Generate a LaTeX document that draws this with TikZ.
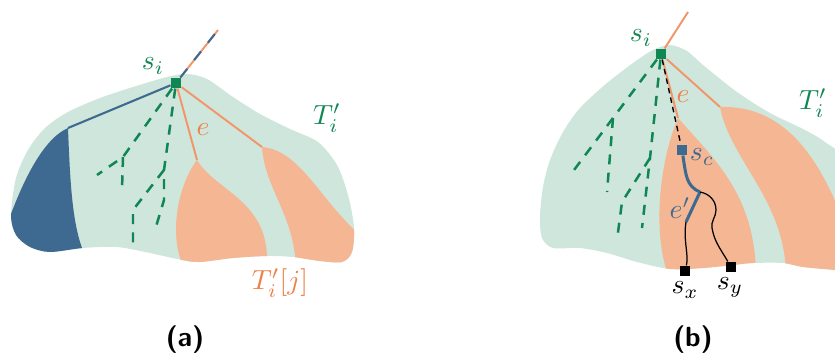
\documentclass[tikz,border=0pt]{standalone}
\usepackage{xcolor}
\definecolor{treefill}{HTML}{CEE6DB}
\definecolor{subfill}{HTML}{F5B693}
\definecolor{subline}{HTML}{F2966A}
\definecolor{sublabel}{HTML}{EE8048}
\definecolor{deepblue}{HTML}{3E6A91}
\definecolor{rootgreen}{HTML}{118655}
\begin{document}
\begin{tikzpicture}[x=0.0127cm, y=-0.0127cm,
    sq/.style={rectangle, minimum size=3.6pt, inner sep=0pt},
    greendash/.style={rootgreen, line width=0.9pt, dash pattern=on 3.6pt off 3pt},
    orangeline/.style={subline, line width=0.7pt},
    blueline/.style={deepblue, line width=0.75pt}]
    \useasboundingbox (0,0) rectangle (835,356);
    % (a) the tree T'_i
    \fill[treefill] plot[smooth cycle] coordinates {(11,215) (16,178) (28,150) (45,128) (68,112) (100,98) (133,87) (167,77) (187,74) (207,79) (233,97) (260,114) (290,129) (318,142) (337,165) (348,195) (354,227) (352,252) (342,262) (320,261) (293,257) (267,256) (233,258) (200,262) (182,260) (150,253) (117,247) (83,248) (50,252) (30,247) (16,235)};
    \begin{scope}
        \clip plot[smooth cycle] coordinates {(11,215) (16,178) (28,150) (45,128) (68,112) (100,98) (133,87) (167,77) (187,74) (207,79) (233,97) (260,114) (290,129) (318,142) (337,165) (348,195) (354,227) (352,252) (342,262) (320,261) (293,257) (267,256) (233,258) (200,262) (182,260) (150,253) (117,247) (83,248) (50,252) (30,247) (16,235)};
        % leftmost subtree
        \fill[deepblue] (68,128) .. controls (45,138) and (25,175) .. (8,222) -- (0,280) -- (86,280) -- (82,248) .. controls (72,220) and (70,180) .. (68,128) -- cycle;
        % subtrees T'_i[j]
        \fill[subfill] (197,160) .. controls (215,190) and (265,200) .. (267,256) -- (268,280) -- (184,280) -- (184,268) .. controls (168,235) and (178,185) .. (197,160) -- cycle;
        \fill[subfill] (262,147) .. controls (265,190) and (295,215) .. (296,270) -- (370,270) -- (370,235) -- (360,235) .. controls (320,200) and (300,150) .. (262,147) -- cycle;
    \end{scope}
    \node[sq, fill=rootgreen] (sia) at (176,83) {};
    \coordinate (topa) at (218,30);
    \coordinate (va) at (68,128);
    \coordinate (v1a) at (197,160);
    \coordinate (v2a) at (262,147);
    % edges at the root
    \draw[orangeline] (sia) -- (topa);
    \draw[blueline, dash pattern=on 4pt off 4pt] (sia) -- (topa);
    \draw[blueline] (sia) -- (va);
    \draw[orangeline] (sia) -- (v1a);
    \draw[orangeline] (sia) -- (v2a);
    % dashed paths
    \coordinate (a1) at (123,157);
    \coordinate (a2) at (97,175);
    \coordinate (a3) at (122,190);
    \coordinate (b1) at (164,170);
    \coordinate (b2) at (164,200);
    \coordinate (b3) at (155,230);
    \coordinate (b4) at (133,210);
    \coordinate (b5) at (133,243);
    \draw[greendash] (sia) -- (a1) -- (a2);
    \draw[greendash] (a1) -- (a3);
    \draw[greendash] (sia) -- (b1) -- (b2) -- (b3);
    \draw[greendash] (b1) -- (b4) -- (b5);
    % labels
    \node[text=rootgreen] (sialab) at (153,66) {$s_i$};
    \node[text=rootgreen] (Ta) at (327,118) {$T'_i$};
    \node[text=sublabel] (ea) at (203,130) {$e$};
    \node[text=sublabel] (Tja) at (280,283) {$T'_i[j]$};
    \node[font=\sffamily\bfseries] (capa) at (185,340) {(a)};

    % (b) the tree T'_i with the path to s_c
    \fill[treefill] plot[smooth cycle] coordinates {(540,217) (543,187) (550,160) (563,132) (580,108) (607,83) (633,63) (653,50) (670,45) (687,51) (703,65) (737,92) (770,113) (803,129) (825,142) (850,165) (865,230) (850,272) (835,270) (803,267) (783,263) (753,263) (733,265) (703,268) (670,269) (637,262) (607,253) (580,248) (553,248) (542,238)};
    \begin{scope}
        \clip plot[smooth cycle] coordinates {(540,217) (543,187) (550,160) (563,132) (580,108) (607,83) (633,63) (653,50) (670,45) (687,51) (703,65) (737,92) (770,113) (803,129) (825,142) (850,165) (865,230) (850,272) (835,270) (803,267) (783,263) (753,263) (733,265) (703,268) (670,269) (637,262) (607,253) (580,248) (553,248) (542,238)};
        \fill[subfill] (678,118) .. controls (715,160) and (755,195) .. (756,275) -- (756,285) -- (668,285) -- (668,275) .. controls (652,230) and (660,160) .. (678,118) -- cycle;
        \fill[subfill] (720,107) .. controls (730,160) and (785,200) .. (786,275) -- (880,275) -- (880,240) -- (850,240) .. controls (820,150) and (780,105) .. (720,107) -- cycle;
    \end{scope}
    \node[sq, fill=rootgreen] (sib) at (661,54) {};
    \node[sq, fill=deepblue] (sc) at (682,150) {};
    \node[sq, fill=black] (sx) at (685,271) {};
    \node[sq, fill=black] (sy) at (731,267) {};
    \coordinate (topb) at (688,12);
    \coordinate (v1b) at (678,118);
    \coordinate (v2b) at (720,107);
    \coordinate (jn) at (700,192);
    \coordinate (ex) at (686,222);
    % edges at the root
    \draw[orangeline] (sib) -- (topb);
    \draw[orangeline] (sib) -- (v1b);
    \draw[orangeline] (sib) -- (v2b);
    \draw[black, line width=0.5pt, dash pattern=on 2pt off 1.5pt] (sib) -- (sc);
    % dashed paths
    \coordinate (p1) at (613,118);
    \coordinate (p2) at (574,170);
    \coordinate (p3) at (607,192);
    \coordinate (q1) at (650,158);
    \coordinate (q2) at (642,228);
    \coordinate (q3) at (622,202);
    \coordinate (q4) at (617,240);
    \draw[greendash] (sib) -- (p1) -- (p2);
    \draw[greendash] (p1) -- (p3);
    \draw[greendash] (sib) -- (q1) -- (q2);
    \draw[greendash] (q1) -- (q3) -- (q4);
    % path from s_c to s_x and s_y
    \draw[deepblue, line width=1.1pt] (sc) .. controls (686,175) and (686,186) .. (jn);
    \draw[deepblue, line width=1.1pt] (jn) -- (ex);
    \draw[black, line width=0.45pt] (jn) to[out=-10, in=90] (716,210) to[out=-90, in=100] (712,228) to[out=-80, in=120] (sy);
    \draw[black, line width=0.45pt] (ex) .. controls (683,240) and (689,255) .. (sx);
    % labels
    \node[text=rootgreen] (siblab) at (641,38) {$s_i$};
    \node[text=rootgreen] (Tb) at (813,103) {$T'_i$};
    \node[text=sublabel] (eb) at (683,97) {$e$};
    \node[text=deepblue] (sclab) at (702,157) {$s_c$};
    \node[text=deepblue] (eplab) at (680,208) {$e'$};
    \node (sxlab) at (685,290) {$s_x$};
    \node (sylab) at (730,287) {$s_y$};
    \node[font=\sffamily\bfseries] (capb) at (693,340) {(b)};
\end{tikzpicture}
\end{document}
